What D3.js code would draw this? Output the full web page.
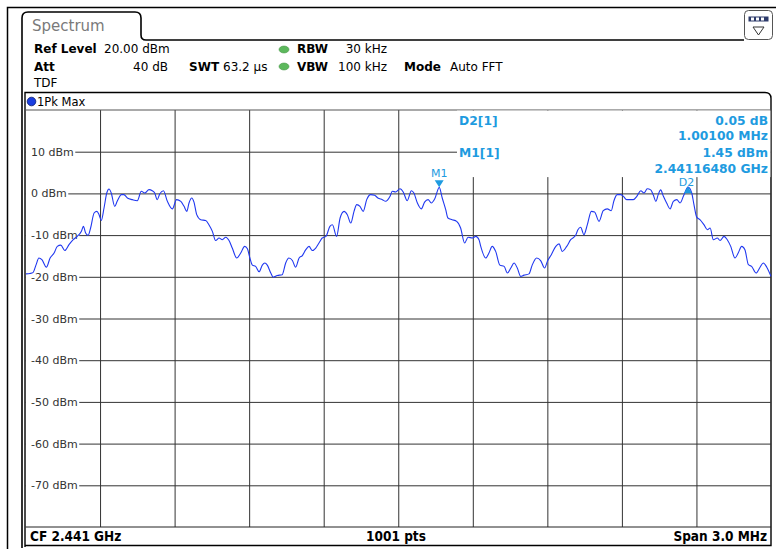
<!DOCTYPE html>
<html><head><meta charset="utf-8">
<script src="https://cdn.jsdelivr.net/npm/d3@7"></script>
<style>html,body{margin:0;padding:0;background:#fff;overflow:hidden}</style>
</head><body><svg id="c" width="776" height="549"></svg>
<script>
// ---- data (frequency offset from CF in MHz, level in dBm) ----
const centerFreqGHz = 2.441;
const spanMHz = 3.0;
const freqOffsetMHz = [
-1.498,-1.482,-1.470,-1.458,-1.446,-1.434,-1.416,-1.401,-1.385,-1.372,-1.358,-1.342,-1.325,-1.308,-1.292,-1.275,-1.267,-1.258,-1.248,-1.238,
-1.224,-1.213,-1.204,-1.195,-1.184,-1.173,-1.164,-1.155,-1.141,-1.131,-1.114,-1.104,-1.090,-1.070,-1.050,-1.034,-1.020,-1.003,-0.990,-0.980,
-0.970,-0.960,-0.945,-0.929,-0.909,-0.892,-0.875,-0.862,-0.851,-0.842,-0.831,-0.822,-0.811,-0.795,-0.775,-0.762,-0.748,-0.735,-0.721,-0.708,
-0.694,-0.681,-0.668,-0.650,-0.634,-0.618,-0.607,-0.597,-0.587,-0.574,-0.560,-0.547,-0.537,-0.527,-0.513,-0.503,-0.487,-0.467,-0.453,-0.440,
-0.426,-0.413,-0.399,-0.386,-0.372,-0.359,-0.346,-0.332,-0.319,-0.306,-0.291,-0.275,-0.265,-0.248,-0.234,-0.218,-0.205,-0.191,-0.178,-0.167,
-0.154,-0.141,-0.127,-0.111,-0.095,-0.082,-0.064,-0.051,-0.033,-0.024,-0.010,0.007,0.020,0.036,0.053,0.063,0.077,0.093,0.106,0.120,
0.133,0.147,0.165,0.177,0.191,0.200,0.217,0.235,0.251,0.267,0.281,0.298,0.312,0.325,0.332,0.352,0.365,0.378,0.392,0.409,
0.426,0.439,0.453,0.466,0.479,0.493,0.506,0.526,0.539,0.557,0.573,0.589,0.600,0.616,0.634,0.647,0.660,0.678,0.694,0.714,
0.723,0.734,0.747,0.761,0.777,0.790,0.808,0.825,0.841,0.857,0.868,0.881,0.895,0.906,0.919,0.946,0.960,0.976,0.989,1.002,
1.016,1.026,1.037,1.046,1.056,1.067,1.080,1.094,1.107,1.121,1.134,1.150,1.166,1.181,1.190,1.201,1.214,1.230,1.244,1.255,
1.268,1.284,1.295,1.311,1.324,1.338,1.355,1.368,1.382,1.395,1.409,1.422,1.440,1.456,1.469,1.483,1.500];
const levelDbm = [
-19.3,-19.2,-19.0,-17.2,-15.5,-15.9,-17.7,-15.5,-14.3,-12.7,-12.4,-13.7,-12.3,-11.1,-10.3,-9.1,-7.9,-9.5,-10.05,-8.3,
-4.7,-4.3,-5.1,-6.5,-3.5,0.1,1.05,0.1,-3.1,-1.9,-0.3,-0.3,-1.1,-1.5,-1.75,0.5,0.1,0.9,0.65,0.1,
-1.5,-0.15,0.65,-1.9,-3.7,-1.5,-1.9,-3.1,-4.3,-2.3,-1.1,-2.1,-5.1,-6.3,-6.5,-7.5,-9.1,-11.3,-10.7,-11.1,
-10.5,-11.3,-13.1,-15.5,-14.3,-12.7,-13.3,-15.5,-17.2,-17.5,-18.8,-17.2,-16.7,-17.2,-19.1,-20.1,-19.7,-19.5,-16.7,-15.5,
-16.1,-17.7,-15.5,-14.9,-13.5,-12.7,-13.7,-13.1,-11.9,-10.7,-10.3,-7.9,-7.5,-10.3,-5.9,-4.3,-5.1,-7.1,-4.3,-2.7,
-3.1,-4.3,-1.5,-0.3,-0.45,-1.1,-1.5,-1.9,-0.7,0.5,0.35,1.1,0.35,-1.75,0.65,0.1,-2.3,-3.7,-2.1,-1.5,
-2.3,-1.3,1.45,-1.1,-3.9,-5.9,-6.3,-6.7,-8.3,-11.9,-10.5,-10.7,-10.3,-11.1,-12.7,-15.5,-14.3,-12.7,-13.9,-17.2,
-17.5,-19.1,-17.9,-16.7,-17.9,-19.9,-19.6,-19.3,-17.2,-15.5,-16.1,-17.9,-16.3,-14.7,-12.7,-12.1,-13.9,-12.7,-11.1,-10.05,
-8.7,-8.1,-9.9,-7.5,-4.3,-4.45,-6.7,-4.15,-3.7,-4.15,-1.75,-0.3,-0.3,-0.7,-1.5,-1.5,-0.7,0.65,0.1,1.1,
0.85,-0.3,-1.9,-0.3,0.85,-0.7,-2.3,-3.7,-1.9,-1.5,-2.3,-0.3,1.5,0.1,-2.7,-5.7,-6.3,-7.5,-8.7,-8.3,
-11.1,-10.7,-11.3,-10.3,-11.1,-12.7,-15.5,-14.3,-12.7,-13.5,-17.1,-17.5,-19.1,-17.7,-16.7,-17.7,-19.9];
const yTickValues = [10, 0, -10, -20, -30, -40, -50, -60, -70];
const yTickLabels = ["10 dBm","0 dBm","-10 dBm","-20 dBm","-30 dBm","-40 dBm","-50 dBm","-60 dBm","-70 dBm"];
const xGridMHz = [-1.2, -0.9, -0.6, -0.3, 0, 0.3, 0.6, 0.9, 1.2];
const markerNames = ["M1", "D2"];
const markerFreqMHz = [0.1648, 1.1658];
const markerLevel = [1.45, 1.50];
const infoLabels = ["D2[1]", "M1[1]"];
const infoValues = [["0.05 dB", "1.00100 MHz"], ["1.45 dBm", "2.44116480 GHz"]];
const headerLeft = [["Ref Level", "20.00 dBm"], ["Att", "40 dB"]];
const footer = ["CF 2.441 GHz", "1001 pts", "Span 3.0 MHz"];

// ---- drawing ----
const svg = d3.select("#c");
const FONT = "'DejaVu Sans', Verdana, sans-serif";
const L = 25.5, R = 771, T = 110, B = 527;
const x = d3.scaleLinear().domain([-spanMHz/2, spanMHz/2]).range([L, R]);
const y = d3.scaleLinear().domain([-80, 20]).range([B, T]);

// outer frame
svg.append("path").attr("d", "M7.5,549 V7.5 H776").attr("fill", "none").attr("stroke", "#000").attr("stroke-width", 1.5);
// tab + panel outline
svg.append("path").attr("d", "M22,548 V18 Q22,12 28,12 H135 Q141,12 141,18 V35 Q141,40 146,40 H744")
  .attr("fill", "none").attr("stroke", "#000").attr("stroke-width", 1.6);
svg.append("text").attr("x", 32).attr("y", 31).attr("font-family", FONT).attr("font-size", 15)
  .attr("fill", "#7a7a7a").text("Spectrum");
// icon
svg.append("rect").attr("x", 744.5).attr("y", 10.5).attr("width", 28).attr("height", 29).attr("rx", 4)
  .attr("fill", "#fff").attr("stroke", "#555");
svg.append("rect").attr("x", 748.5).attr("y", 16.5).attr("width", 20).attr("height", 5).attr("fill", "#2d3a6a");
[751, 756, 761].forEach(px => svg.append("rect").attr("x", px).attr("y", 17.5).attr("width", 3).attr("height", 3).attr("fill", "#fff"));
svg.append("path").attr("d", "M753,27 H764 L758.5,35 Z").attr("fill", "none").attr("stroke", "#333");

// header texts
const hdr = svg.append("g").attr("font-family", FONT).attr("font-size", 12).attr("fill", "#000");
hdr.append("text").attr("x", 34).attr("y", 53).attr("font-weight", "bold").text(headerLeft[0][0]);
hdr.append("text").attr("x", 104).attr("y", 53).text(headerLeft[0][1]);
hdr.append("text").attr("x", 34).attr("y", 71).attr("font-weight", "bold").text(headerLeft[1][0]);
hdr.append("text").attr("x", 168).attr("y", 71).attr("text-anchor", "end").text(headerLeft[1][1]);
hdr.append("text").attr("x", 34).attr("y", 87).text("TDF");
hdr.append("text").attr("x", 189).attr("y", 71).attr("font-weight", "bold").text("SWT");
hdr.append("text").attr("x", 223).attr("y", 71).text("63.2 µs");
[49.5, 66.5].forEach(cy => svg.append("ellipse").attr("cx", 284).attr("cy", cy).attr("rx", 5).attr("ry", 3.5).attr("fill", "#5cb85c").attr("stroke", "#3e8e3e").attr("stroke-width", 0.5));
hdr.append("text").attr("x", 297).attr("y", 53).attr("font-weight", "bold").text("RBW");
hdr.append("text").attr("x", 387).attr("y", 53).attr("text-anchor", "end").text("30 kHz");
hdr.append("text").attr("x", 297).attr("y", 71).attr("font-weight", "bold").text("VBW");
hdr.append("text").attr("x", 387).attr("y", 71).attr("text-anchor", "end").text("100 kHz");
hdr.append("text").attr("x", 404).attr("y", 71).attr("font-weight", "bold").text("Mode");
hdr.append("text").attr("x", 450).attr("y", 71).text("Auto FFT");

// plot box
svg.append("path").attr("d", `M25,547 V92.5 H765 Q771,92.5 771,98.5 V545.5 H25`)
  .attr("fill", "#fff").attr("stroke", "#000").attr("stroke-width", 1.4);
svg.append("circle").attr("cx", 31.5).attr("cy", 101.5).attr("r", 4.3).attr("fill", "#1b3fe0").attr("stroke", "#0a1a70").attr("stroke-width", 0.8);
svg.append("text").attr("x", 37).attr("y", 106).attr("font-family", FONT).attr("font-size", 11.5).text("1Pk Max");

// grid via d3 axes
const gridColor = "#333";
const gx = svg.append("g").attr("transform", `translate(0,${B})`)
  .call(d3.axisBottom(x).tickValues(xGridMHz).tickSize(-(B - T)).tickFormat(""));
gx.select(".domain").remove();
gx.selectAll("line").attr("stroke", gridColor).attr("stroke-width", 1);
const gy = svg.append("g").attr("transform", `translate(${L},0)`)
  .call(d3.axisRight(y).tickValues(yTickValues).tickSize(R - L).tickFormat(""));
gy.select(".domain").remove();
gy.selectAll("line").attr("stroke", gridColor).attr("stroke-width", 1);
// top & bottom borders of the graticule
svg.append("line").attr("x1", L).attr("x2", R).attr("y1", y(20)).attr("y2", y(20)).attr("stroke", "#555");
svg.append("line").attr("x1", L).attr("x2", R).attr("y1", y(-80)).attr("y2", y(-80)).attr("stroke", "#222");

// y labels with white background
const ylab = svg.append("g").attr("font-family", FONT).attr("font-size", 11).attr("fill", "#333");
yTickValues.forEach((v, i) => {
  const t = ylab.append("text").attr("x", 31).attr("y", y(v) + 4).text(yTickLabels[i]);
  const w = t.node().getComputedTextLength();
  ylab.insert("rect", "text").attr("x", L + 0.5).attr("y", y(v) - 5).attr("width", 31 - L + w + 1).attr("height", 10).attr("fill", "#fff");
});

// marker info box (covers grid)
svg.append("rect").attr("x", 457).attr("y", T + 0.6).attr("width", R - 457 - 0.6).attr("height", 66.5).attr("fill", "#fff");
const info = svg.append("g").attr("font-family", FONT).attr("font-size", 12.3).attr("font-weight", "bold").attr("fill", "#1e9be0");
infoLabels.forEach((lab, i) => {
  const by = 124.5 + i * 32.5;
  info.append("text").attr("x", 459).attr("y", by).text(lab);
  info.append("text").attr("x", 768).attr("y", by).attr("text-anchor", "end").text(infoValues[i][0]);
  info.append("text").attr("x", 768).attr("y", by + 15.5).attr("text-anchor", "end").text(infoValues[i][1]);
});

// trace
const pts = freqOffsetMHz.map((f, i) => [f, levelDbm[i]]);
svg.append("path").datum(pts)
  .attr("d", d3.line().x(d => x(d[0])).y(d => y(d[1])).curve(d3.curveMonotoneX))
  .attr("fill", "none").attr("stroke", "#2038f0").attr("stroke-width", 1.1);

// markers
const mk = svg.append("g").attr("font-family", FONT).attr("font-size", 11).attr("fill", "#1e9be0");
markerNames.forEach((n, i) => {
  const mx = x(markerFreqMHz[i]), my = y(markerLevel[i]);
  if (n[0] === "M") {
    mk.append("path").attr("d", `M${mx - 4.5},${my - 7} H${mx + 4.5} L${mx},${my} Z`).attr("fill", "#1e9be0");
    mk.append("text").attr("x", mx).attr("y", my - 10).attr("text-anchor", "middle").text(n);
  } else {
    mk.append("path").attr("d", `M${mx - 4},${my + 6} H${mx + 4} L${mx},${my - 1} Z`).attr("fill", "#1e9be0");
    mk.append("text").attr("x", mx - 1.5).attr("y", my - 1.5).attr("text-anchor", "middle").text(n);
  }
});

// footer / status bar
const ft = svg.append("g").attr("font-family", "'DejaVu Sans Condensed', 'DejaVu Sans', sans-serif").attr("font-size", 13.5).attr("font-weight", "bold").attr("fill", "#000");
ft.append("text").attr("x", 30).attr("y", 541).text(footer[0]);
ft.append("text").attr("x", 396).attr("y", 541).attr("text-anchor", "middle").text(footer[1]);
ft.append("text").attr("x", 767).attr("y", 541).attr("text-anchor", "end").text(footer[2]);
</script></body></html>
